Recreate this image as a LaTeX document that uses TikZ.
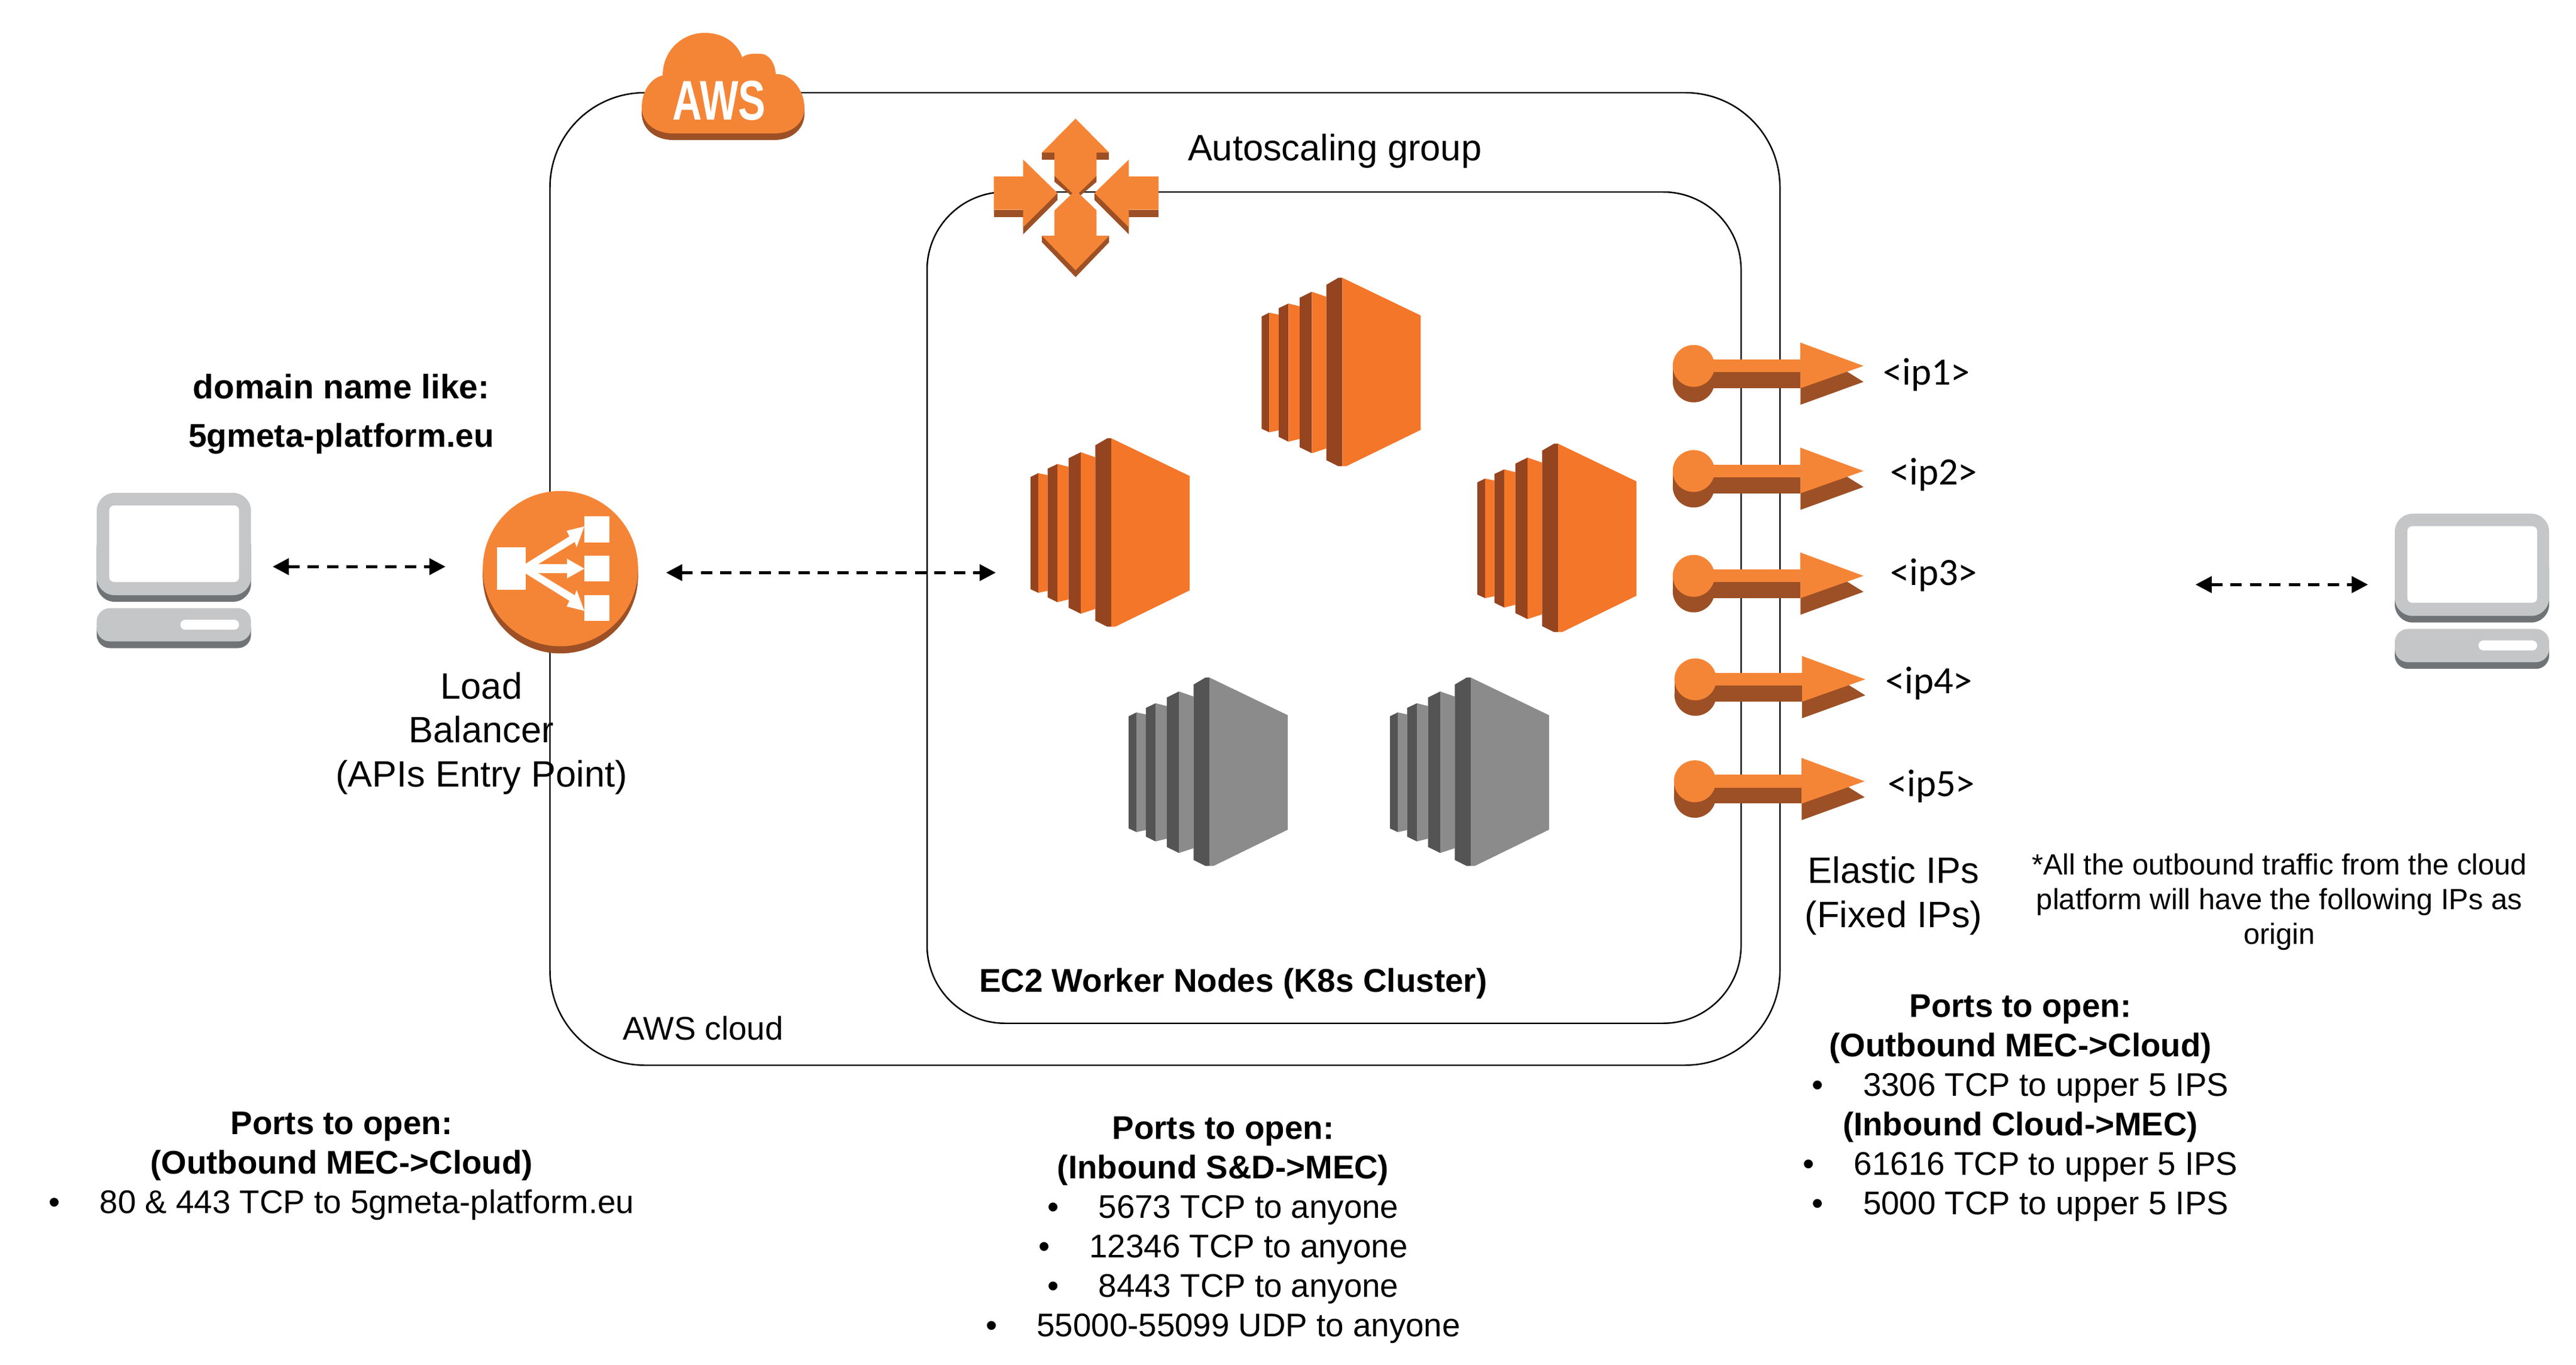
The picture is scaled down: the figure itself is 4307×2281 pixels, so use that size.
\documentclass[tikz,border=0pt]{standalone}
\usepackage{fontspec}
\setmainfont{Liberation Sans}
\newfontfamily\calibrifont{Carlito}
\usetikzlibrary{arrows.meta}

\definecolor{awsorange}{HTML}{F58536}
\definecolor{awsshade}{HTML}{9D5025}
\definecolor{ec2orange}{HTML}{F47629}
\definecolor{ec2shade}{HTML}{954420}
\definecolor{ec2grey}{HTML}{8B8B8B}
\definecolor{ec2greyshade}{HTML}{545454}
\definecolor{pcgrey}{HTML}{C4C6C8}
\definecolor{pcshade}{HTML}{707375}

\newcommand{\portitem}[1]{\textbullet\hspace{0.66cm}#1}

\tikzset{
  lbl/.style={inner sep=0pt, outer sep=0pt, align=center, font=\fontsize{15.55}{18.76}\selectfont},
  biglbl/.style={lbl, font=\fontsize{17.45}{20.8}\selectfont},
  smalllbl/.style={lbl, font=\fontsize{13.9}{16.5}\selectfont},
  iplbl/.style={lbl, anchor=base, font=\calibrifont\fontsize{18.4}{20.8}\selectfont},
  hotspot/.style={inner sep=0pt, outer sep=0pt, minimum height=0.3cm},
  link/.style={line width=1.5pt, dash pattern=on 0.19cm off 0.135cm,
    {Triangle[length=0.27cm,width=0.27cm]}-{Triangle[length=0.27cm,width=0.27cm]}},
  pics/worker/.style 2 args={code={
    \fill [#2] (0,-64.7) -- (13,-58.3) -- (13,-258.3) -- (0,-252.3) -- cycle;
    \fill [#1] (13,-58.3) -- (28.7,-61.7) -- (28.7,-255) -- (13,-258.3) -- cycle;
    \fill [#2] (28.7,-50.7) -- (45,-43) -- (45,-274) -- (28.7,-266) -- cycle;
    \fill [#1] (45,-43) -- (63.7,-47.7) -- (63.7,-269.3) -- (45,-274) -- cycle;
    \fill [#2] (63.7,-33.3) -- (84,-23.3) -- (84,-293.3) -- (63.7,-283.3) -- cycle;
    \fill [#1] (84,-23.3) -- (108.3,-31.7) -- (108.3,-285.3) -- (84,-293.3) -- cycle;
    \fill [#2] (108.3,-11.7) -- (128.3,0) -- (135,0) -- (135,-315) -- (128.3,-315) -- (108.3,-305) -- cycle;
    \fill [#1] (135,0) -- (266,-63) -- (266,-254.3) -- (141.7,-315) -- (135,-315) -- cycle;
  }},
  pics/elasticip/.style={code={
    \fill [awsshade] (35,-26) circle (35);
    \fill [awsshade] (0,0) rectangle (70,-26);
    \fill [awsshade] (60,-10.7) rectangle (213.5,-37.3);
    \fill [awsshade] (213.5,39) -- (319,-26.7) -- (319,-26.7) -- (213.5,-65) -- cycle;
    \fill [awsorange] (35,0) circle (35);
    \fill [awsorange] (60,10.7) rectangle (213.5,-10.7);
    \fill [awsorange] (213.5,39) -- (319,0) -- (213.5,-37.3) -- cycle;
  }},
  pics/desktop/.style={code={
    \fill [pcshade, rounded corners=0.3cm] (0,-60) rectangle (258,-182);
    \fill [pcgrey, rounded corners=0.3cm] (0,0) rectangle (258,-171);
    \fill [white, rounded corners=0.08cm] (21,-21) rectangle (238,-149);
    \fill [pcshade, rounded corners=0.22cm] (0,-205) rectangle (258,-259.5);
    \fill [pcgrey, rounded corners=0.22cm] (0,-192.7) rectangle (258,-248.3);
    \fill [white, rounded corners=0.08cm] (140,-212) rectangle (238,-228.7);
  }}
}

\begin{document}
\begin{tikzpicture}[x=0.01cm, y=0.01cm]
\useasboundingbox (0,0) rectangle (4307,-2281);
% groups
\draw [black, line width=0.7pt, rounded corners=1.58cm] (919.5,-155) rectangle (2976,-1780.7);
\draw [black, line width=0.7pt, rounded corners=1.3cm] (1550,-321) rectangle (2911,-1710.7);
% cloud badge
\fill [awsshade] (1073,-180) -- (1073,-190) .. controls (1073,-215) and (1095,-234) .. (1125,-234) -- (1295,-234) .. controls (1325,-234) and (1345,-215) .. (1345,-190) -- (1345,-180) -- cycle;
\fill [awsorange] (1073,-180) .. controls (1073,-150) and (1090,-130) .. (1108,-126) .. controls (1108,-85) and (1140,-55) .. (1178,-55) .. controls (1208,-55) and (1232,-70) .. (1241,-96) .. controls (1250,-88) and (1265,-90) .. (1272,-90) .. controls (1285,-90) and (1296,-105) .. (1297,-124) .. controls (1322,-122) and (1345,-150) .. (1345,-180) .. controls (1345,-205) and (1325,-223) .. (1295,-223) -- (1125,-223) .. controls (1095,-223) and (1073,-205) .. (1073,-180) -- cycle;
\node (awsbadge) [inner sep=0pt, white, font=\fontsize{26.6}{27}\selectfont\bfseries] at (1202.5,-168.5) {\scalebox{0.73}[1]{AWS}};
% scaling icon
\fill [awsshade] (1742,-255) -- (1742,-267.3) -- (1763.2,-267.3) -- (1763.2,-255) -- cycle;
\fill [awsshade] (1833.4,-255) -- (1833.4,-267.3) -- (1854.4,-267.3) -- (1854.4,-255) -- cycle;
\fill [awsshade] (1763.2,-294) -- (1763.2,-304) -- (1792,-328) -- (1805,-328) -- (1833.4,-304) -- (1833.4,-294) -- cycle;
\fill [awsorange] (1798.3,-198.3) -- (1854.4,-255) -- (1833.4,-255) -- (1833.4,-294) -- (1798.3,-328) -- (1763.2,-294) -- (1763.2,-255) -- (1742.2,-255) -- cycle;
\fill [awsshade] (1742.2,-394.3) -- (1742.2,-405) -- (1798.3,-463.3) -- (1854.4,-405) -- (1854.4,-394.3) -- cycle;
\fill [awsorange] (1798.3,-451.7) -- (1854.4,-394.3) -- (1833.4,-394.3) -- (1833.4,-351.7) -- (1798.3,-318) -- (1763.2,-351.7) -- (1763.2,-394.3) -- (1742.2,-394.3) -- cycle;
\fill [awsshade] (1661.5,-350.7) -- (1661.5,-362.7) -- (1710.6,-362.7) -- (1710.6,-350.7) -- cycle;
\fill [awsshade] (1710.6,-350) -- (1710.6,-391.7) -- (1768.1,-334.3) -- (1768.1,-322.7) -- cycle;
\fill [awsorange] (1768.1,-322.7) -- (1710.6,-266.7) -- (1710.6,-295) -- (1661.5,-295) -- (1661.5,-350.7) -- (1710.6,-350.7) -- (1710.6,-380) -- cycle;
\fill [awsshade] (1937.2,-350.7) -- (1937.2,-362.7) -- (1887.4,-362.7) -- (1887.4,-350.7) -- cycle;
\fill [awsshade] (1887.4,-350) -- (1887.4,-391.7) -- (1829.9,-334.3) -- (1829.9,-322.7) -- cycle;
\fill [awsorange] (1829.9,-322.7) -- (1887.4,-266.7) -- (1887.4,-295) -- (1937.2,-295) -- (1937.2,-350.7) -- (1887.4,-350.7) -- (1887.4,-380) -- cycle;
% load balancer
\fill [awsshade] (937,-962.6) circle (129.8);
\fill [awsshade] (807.2,-950.6) rectangle (1066.8,-962.6);
\fill [awsorange] (937,-950.6) circle (129.8);
\fill [white] (831,-915.3) rectangle (878.7,-986);
\fill [white] (976.9,-863.3) rectangle (1019,-906.7);
\fill [white] (976.9,-929.3) rectangle (1019,-972.3);
\fill [white] (976.9,-995) rectangle (1019,-1037.7);
\fill [white] (878,-943) -- (948,-943) -- (948,-934) -- (977,-950.6) -- (948,-967) -- (948,-958.2) -- (878,-958.2) -- cycle;
\fill [white] (878,-943) -- (952,-896.7) -- (947.4,-887.3) -- (977,-880) -- (964,-915) -- (961,-906) -- (900,-943) -- cycle;
\fill [white] (878,-958.2) -- (952,-1004.5) -- (947.4,-1013.9) -- (977,-1021.2) -- (964,-986.2) -- (961,-995.2) -- (900,-958.2) -- cycle;
% workers
\pic at (2109.3,-464.4) {worker={ec2orange}{ec2shade}};
\pic at (1723,-732.7) {worker={ec2orange}{ec2shade}};
\pic at (2470,-741.7) {worker={ec2orange}{ec2shade}};
\pic at (1887.2,-1132.7) {worker={ec2grey}{ec2greyshade}};
\pic at (2324,-1132.7) {worker={ec2grey}{ec2greyshade}};
% elastic ips
\pic at (2796.7,-611.7) {elasticip};
\pic at (2796.7,-787.4) {elasticip};
\pic at (2796.7,-962.7) {elasticip};
\pic at (2799.6,-1135.7) {elasticip};
\pic at (2798.7,-1306.1) {elasticip};
% desktops
\pic at (161.7,-824) {desktop};
\pic at (4004,-858.7) {desktop};
% connectors
\node (client) [hotspot, minimum width=3.3cm] at (290.8,-947.3) {};
\node (lb) [hotspot, minimum width=3.84cm] at (937,-947.3) {};
\coordinate (lbport) at (1113.7,-957.3);
\node (workerleft) [hotspot, minimum width=3.82cm] at (1856,-957.3) {};
\coordinate (ipport) at (3670.8,-977.3);
\node (remote) [hotspot, minimum width=3.474cm] at (4133,-977.3) {};
\draw [link] (client.east) -- (lb.west);
\draw [link] (lbport) -- (workerleft.west);
\draw [link] (ipport) -- (remote.west);
% labels
\node (asglabel) [biglbl, anchor=base west] at (1986,-268) {Autoscaling group};
\node (cloudlabel) [lbl, anchor=base west] at (1041,-1738) {AWS cloud};
\node (k8slabel) [lbl, anchor=base west, font=\fontsize{15.6}{18.76}\selectfont\bfseries] at (1637,-1658) {EC2 Worker Nodes (K8s Cluster)};
\node (domainlabel) [lbl, anchor=base, font=\fontsize{16.15}{23}\selectfont\bfseries] at (570.5,-747) {domain name like:\\{\fontsize{15.65}{23}\selectfont 5gmeta-platform.eu}};
\node (lblabel) [biglbl, anchor=base] at (805,-1315) {Load\\Balancer\\(APIs Entry Point)};
\node (ip1) [iplbl] at (3221,-643) {<ip1>};
\node (ip2) [iplbl] at (3233,-810) {<ip2>};
\node (ip3) [iplbl] at (3233,-978) {<ip3>};
\node (ip4) [iplbl] at (3225,-1159) {<ip4>};
\node (ip5) [iplbl] at (3229,-1331.6) {<ip5>};
\node (eiplabel) [biglbl, anchor=base] at (3166,-1550) {Elastic IPs\\(Fixed IPs)};
\node (notelabel) [smalllbl, anchor=base] at (3811,-1578.7) {*All the outbound traffic from the cloud\\platform will have the following IPs as\\origin};
% ports
\node (portsleft) [lbl, anchor=base] at (571,-2028) {\textbf{Ports to open:}\\\textbf{(Outbound MEC->Cloud)}\\\portitem{80 \& 443 TCP to 5gmeta-platform.eu}};
\node (portsmid) [lbl, anchor=base] at (2045,-2234) {\textbf{Ports to open:}\\\textbf{(Inbound S\&D->MEC)}\\\portitem{5673 TCP to anyone}\\\portitem{12346 TCP to anyone}\\\portitem{8443 TCP to anyone}\\\portitem{55000-55099 UDP to anyone}};
\node (portsright) [lbl, anchor=base] at (3378,-2030) {\textbf{Ports to open:}\\\textbf{(Outbound MEC->Cloud)}\\\portitem{3306 TCP to upper 5 IPS}\\\textbf{(Inbound Cloud->MEC)}\\\portitem{61616 TCP to upper 5 IPS}\\\portitem{5000 TCP to upper 5 IPS}};
\end{tikzpicture}
\end{document}
